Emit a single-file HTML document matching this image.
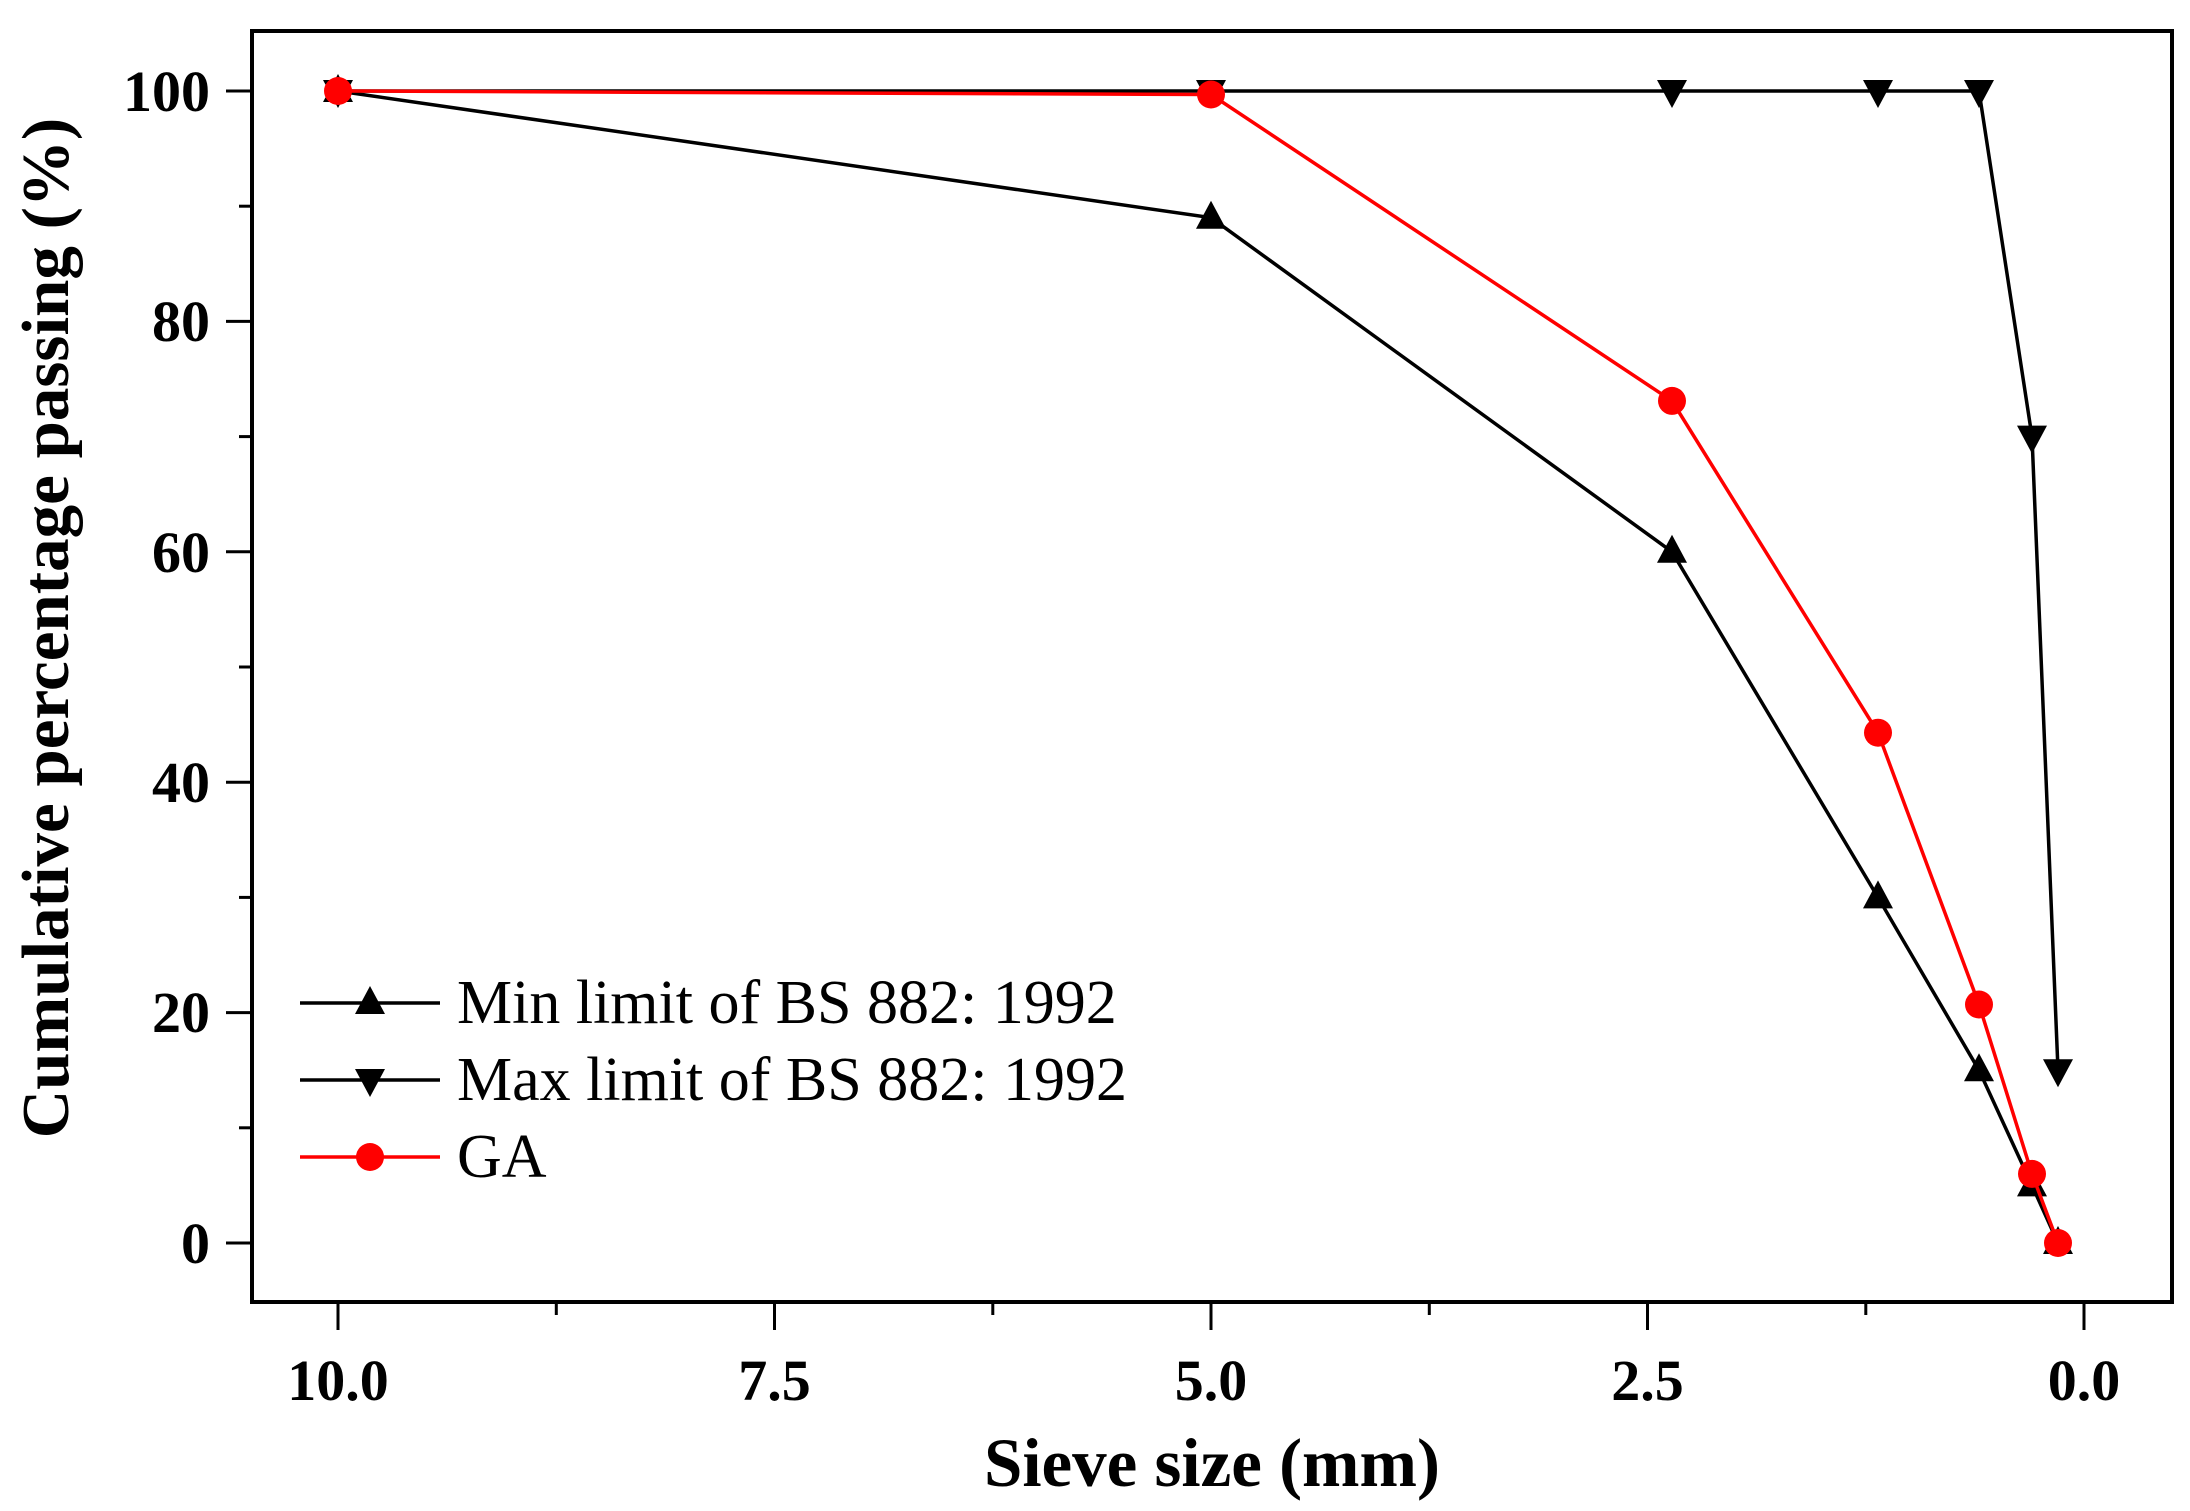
<!DOCTYPE html>
<html><head><meta charset="utf-8"><style>body{margin:0;background:#fff}svg{display:block}</style></head>
<body>
<svg width="2190" height="1511" viewBox="0 0 2190 1511" xmlns="http://www.w3.org/2000/svg" font-family="Liberation Serif, serif">
<rect width="2190" height="1511" fill="#fff"/>
<defs>
<polygon id="up" points="0,-17 -15,11 15,11" fill="#000"/>
<polygon id="dn" points="0,17 -15,-11 15,-11" fill="#000"/>
<circle id="ci" r="14" fill="#f00"/>
</defs>
<rect x="252" y="31" width="1920" height="1271" fill="none" stroke="#000" stroke-width="4"/>
<g stroke="#000" stroke-width="3">
<line x1="226" x2="252" y1="1243" y2="1243"/><line x1="239" x2="252" y1="1127.8" y2="1127.8"/>
<line x1="226" x2="252" y1="1012.6" y2="1012.6"/><line x1="239" x2="252" y1="897.4" y2="897.4"/>
<line x1="226" x2="252" y1="782.2" y2="782.2"/><line x1="239" x2="252" y1="667" y2="667"/>
<line x1="226" x2="252" y1="551.8" y2="551.8"/><line x1="239" x2="252" y1="436.6" y2="436.6"/>
<line x1="226" x2="252" y1="321.4" y2="321.4"/><line x1="239" x2="252" y1="206.2" y2="206.2"/>
<line x1="226" x2="252" y1="91" y2="91"/>
<line x1="338" x2="338" y1="1302" y2="1330"/><line x1="556.3" x2="556.3" y1="1302" y2="1315"/>
<line x1="774.5" x2="774.5" y1="1302" y2="1330"/><line x1="992.8" x2="992.8" y1="1302" y2="1315"/>
<line x1="1211" x2="1211" y1="1302" y2="1330"/><line x1="1429.3" x2="1429.3" y1="1302" y2="1315"/>
<line x1="1647.5" x2="1647.5" y1="1302" y2="1330"/><line x1="1865.8" x2="1865.8" y1="1302" y2="1315"/>
<line x1="2084" x2="2084" y1="1302" y2="1330"/>
</g>
<g font-size="58" font-weight="bold" text-anchor="end">
<text x="210" y="1263">0</text><text x="210" y="1032">20</text><text x="210" y="802">40</text>
<text x="210" y="572">60</text><text x="210" y="341">80</text><text x="210" y="111">100</text>
</g>
<g font-size="58" font-weight="bold" text-anchor="middle">
<text x="338" y="1400">10.0</text><text x="774.5" y="1400">7.5</text><text x="1211" y="1400">5.0</text>
<text x="1647.5" y="1400">2.5</text><text x="2084" y="1400">0.0</text>
</g>
<text x="1212" y="1486" font-size="69" font-weight="bold" text-anchor="middle">Sieve size (mm)</text>
<text transform="translate(68,628) rotate(-90)" font-size="67" font-weight="bold" text-anchor="middle">Cumulative percentage passing (%)</text>

<polyline points="338,91 1211,217.7 1672,551.8 1878,897.4 1979,1070.2 2032,1185.4 2058,1243" fill="none" stroke="#000" stroke-width="3.5"/>
<use href="#up" x="338" y="91"/><use href="#up" x="1211" y="217.7"/><use href="#up" x="1672" y="551.8"/><use href="#up" x="1878" y="897.4"/><use href="#up" x="1979" y="1070.2"/><use href="#up" x="2032" y="1185.4"/><use href="#up" x="2058" y="1243"/>

<polyline points="338,91 1211,91 1672,91 1878,91 1979,91 2032,436.6 2058,1070.2" fill="none" stroke="#000" stroke-width="3.5"/>
<use href="#dn" x="338" y="91"/><use href="#dn" x="1211" y="91"/><use href="#dn" x="1672" y="91"/><use href="#dn" x="1878" y="91"/><use href="#dn" x="1979" y="91"/><use href="#dn" x="2032" y="436.6"/><use href="#dn" x="2058" y="1070.2"/>

<polyline points="338,91 1211,94.5 1672,400.9 1878,732.7 1979,1004.5 2032,1173.9 2058,1243" fill="none" stroke="#f00" stroke-width="3.5"/>
<use href="#ci" x="338" y="91"/><use href="#ci" x="1211" y="94.5"/><use href="#ci" x="1672" y="400.9"/><use href="#ci" x="1878" y="732.7"/><use href="#ci" x="1979" y="1004.5"/><use href="#ci" x="2032" y="1173.9"/><use href="#ci" x="2058" y="1243"/>

<line x1="300" x2="440" y1="1003" y2="1003" stroke="#000" stroke-width="3.5"/><use href="#up" x="370" y="1003"/>
<text x="457" y="1023" font-size="62">Min limit of BS 882: 1992</text>
<line x1="300" x2="440" y1="1080" y2="1080" stroke="#000" stroke-width="3.5"/><use href="#dn" x="370" y="1080"/>
<text x="457" y="1100" font-size="62">Max limit of BS 882: 1992</text>
<line x1="300" x2="440" y1="1157" y2="1157" stroke="#f00" stroke-width="3.5"/><use href="#ci" x="370" y="1157"/>
<text x="457" y="1177" font-size="62">GA</text>
</svg>
</body></html>
